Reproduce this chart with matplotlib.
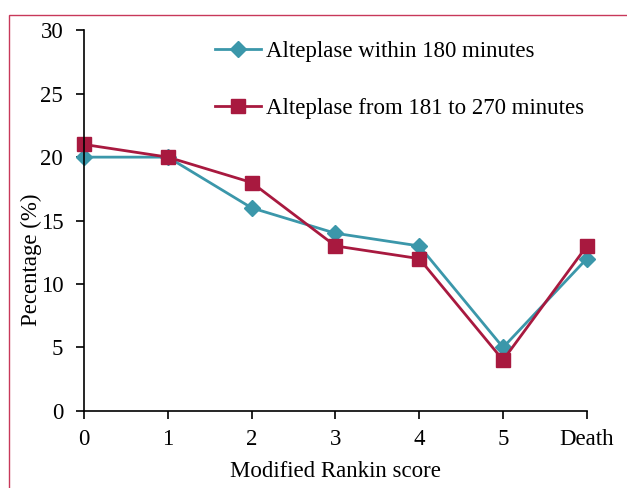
import matplotlib
matplotlib.use("Agg")
from matplotlib import pyplot as plt
from matplotlib.patches import Rectangle

# Data
categories = ['0', '1', '2', '3', '4', '5', 'Death']
within_180 = [20, 20, 16, 14, 13, 5, 12]
from_181_270 = [21, 20, 18, 13, 12, 4, 13]
yticks = [0, 5, 10, 15, 20, 25, 30]

plt.rcParams['font.family'] = ['Liberation Serif', 'DejaVu Serif']
fs = 16.5

fig = plt.figure(figsize=(6.27, 4.88), dpi=100)
ax = fig.add_axes([0.134, 0.158, 0.802, 0.78])

# pink frame around the figure
fig.patches.append(Rectangle((9 / 627, -0.1), 1.2, 1 - 15 / 488 + 0.1,
                             transform=fig.transFigure, fill=False,
                             edgecolor='#c8385a', linewidth=1.0))

x = range(len(categories))
ax.plot(x, within_180, color='#3b97aa', marker='D', markersize=8,
        linewidth=2, label='Alteplase within 180 minutes', clip_on=False)
ax.plot(x, from_181_270, color='#a8193f', marker='s', markersize=10,
        linewidth=2, label='Alteplase from 181 to 270 minutes', clip_on=False)

ax.set_xlim(0, len(categories) - 1)
ax.set_ylim(0, 30)
ax.set_xticks(list(x))
ax.set_xticklabels(categories)
ax.set_yticks(yticks)
ax.tick_params(labelsize=fs, length=6, width=1.2)
ax.tick_params(axis='y', pad=9)
ax.tick_params(axis='x', pad=7)
for s in ['top', 'right']:
    ax.spines[s].set_visible(False)
for s in ['left', 'bottom']:
    ax.spines[s].set_linewidth(1.2)

ax.set_xlabel('Modified Rankin score', fontsize=fs, labelpad=8)
ax.set_ylabel('Pecentage (%)', fontsize=fs)
ax.yaxis.set_label_coords(-0.083, 0.396)

ax.legend(loc='upper left', bbox_to_anchor=(0.22, 1.025), frameon=False,
          fontsize=fs, labelspacing=1.55, handlelength=2.0, handletextpad=0.2)

fig.savefig('out.png', dpi=100)
